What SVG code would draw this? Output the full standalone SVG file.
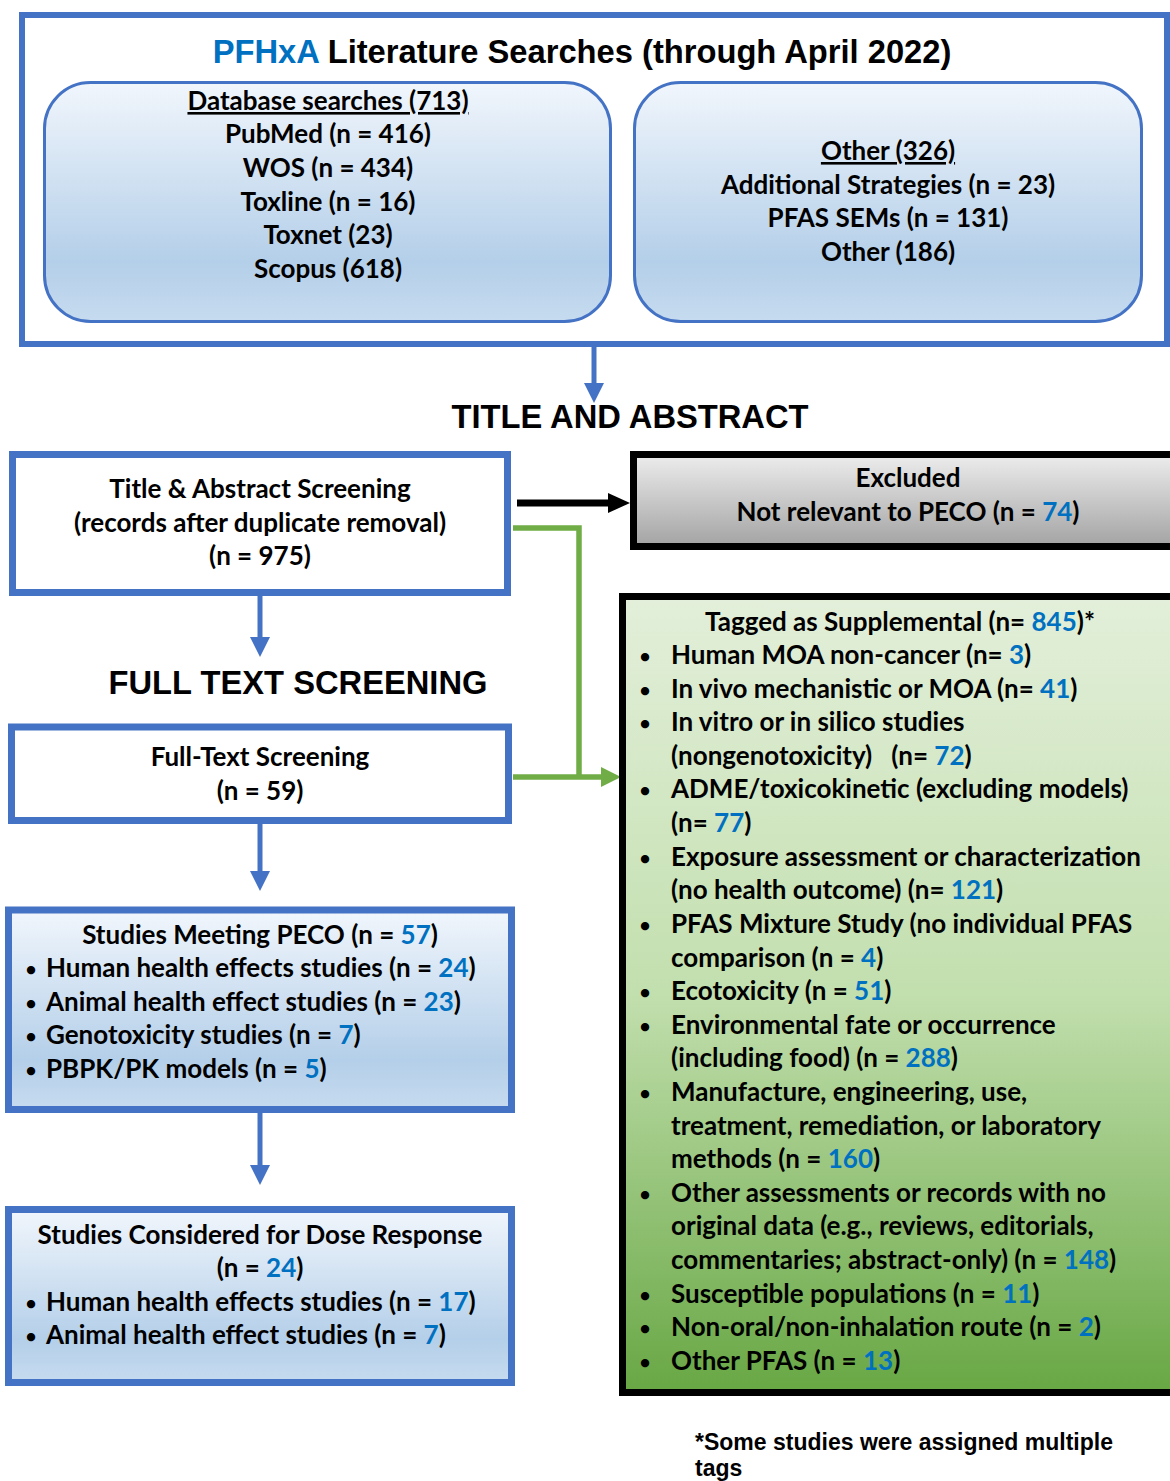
<svg xmlns="http://www.w3.org/2000/svg" width="1170" height="1481" viewBox="0 0 1170 1481">
<style>
.t{font-family:Lato,"Open Sans","Liberation Sans",sans-serif;font-weight:bold;font-size:26px;fill:#000}
.c{text-anchor:middle}
.b{font-family:Lato,"Open Sans","Liberation Sans",sans-serif;font-weight:bold;font-size:19px;fill:#000;text-anchor:middle}
.h{font-family:"Liberation Sans",Arial,sans-serif;font-weight:bold;font-size:32.7px;fill:#000}
.n{fill:#0070C0}
.u{text-decoration:underline}
.fn{font-family:"Liberation Sans",Arial,sans-serif;font-weight:bold;font-size:23px;fill:#000}
</style>
<defs>
<linearGradient id="gBlue" x1="0" y1="0" x2="0" y2="1">
<stop offset="0" stop-color="#f1f6fc"/>
<stop offset="0.75" stop-color="#b4cfe9"/>
<stop offset="1" stop-color="#c6dbef"/>
</linearGradient>
<linearGradient id="gGray" x1="0" y1="0" x2="0" y2="1">
<stop offset="0" stop-color="#ededed"/>
<stop offset="1" stop-color="#a3a3a3"/>
</linearGradient>
<linearGradient id="gGreen" x1="0" y1="0" x2="0" y2="1">
<stop offset="0" stop-color="#e3efda"/>
<stop offset="0.5" stop-color="#c2dfae"/>
<stop offset="1" stop-color="#68a744"/>
</linearGradient>
<marker id="aBlue" markerUnits="userSpaceOnUse" markerWidth="22" markerHeight="22" viewBox="0 0 20 22" refX="0" refY="11" orient="auto">
<path d="M0,1 L20,11 L0,21 Z" fill="#4472C4"/>
</marker>
<marker id="aBlack" markerUnits="userSpaceOnUse" markerWidth="22" markerHeight="22" viewBox="0 0 22 22" refX="0" refY="11" orient="auto">
<path d="M0,1 L22,11 L0,21 Z" fill="#000"/>
</marker>
<marker id="aGreen" markerUnits="userSpaceOnUse" markerWidth="20" markerHeight="22" viewBox="0 0 20 22" refX="0" refY="11" orient="auto">
<path d="M0,1 L20,11 L0,21 Z" fill="#70AD47"/>
</marker>
</defs>
<rect width="1170" height="1481" fill="#fff"/>

<g id="connectors">
<line x1="594" y1="347" x2="594" y2="383" stroke="#4472C4" stroke-width="5" marker-end="url(#aBlue)"/>
<line x1="517" y1="503" x2="608" y2="503" stroke="#000" stroke-width="7" marker-end="url(#aBlack)"/>
<polyline points="513,528 579,528 579,777" fill="none" stroke="#70AD47" stroke-width="5.5"/>
<line x1="513" y1="777" x2="601" y2="777" stroke="#70AD47" stroke-width="5.5" marker-end="url(#aGreen)"/>
<line x1="260" y1="596" x2="260" y2="637" stroke="#4472C4" stroke-width="5" marker-end="url(#aBlue)"/>
<line x1="260" y1="824" x2="260" y2="871" stroke="#4472C4" stroke-width="5" marker-end="url(#aBlue)"/>
<line x1="260" y1="1113" x2="260" y2="1165" stroke="#4472C4" stroke-width="5" marker-end="url(#aBlue)"/>
</g>

<g id="searches">
<rect x="22" y="15" width="1145" height="329" fill="#fff" stroke="#4472C4" stroke-width="6"/>
<text class="h c" x="582" y="63"><tspan fill="#0070C0">PFHxA</tspan> Literature Searches (through April 2022)</text>
</g>

<g id="database">
<rect x="44.5" y="82.5" width="566" height="239" rx="46" fill="url(#gBlue)" stroke="#4472C4" stroke-width="3"/>
<text class="t c" x="328" y="110"><tspan class="u">Database searches (713)</tspan></text>
<text class="t c" x="328" y="143">PubMed (n = 416)</text>
<text class="t c" x="328" y="177">WOS (n = 434)</text>
<text class="t c" x="328" y="211">Toxline (n = 16)</text>
<text class="t c" x="328" y="244">Toxnet (23)</text>
<text class="t c" x="328" y="278">Scopus (618)</text>
</g>

<g id="other">
<rect x="634.5" y="82.5" width="507" height="239" rx="46" fill="url(#gBlue)" stroke="#4472C4" stroke-width="3"/>
<text class="t c" x="888" y="160"><tspan class="u">Other (326)</tspan></text>
<text class="t c" x="888" y="194">Additional Strategies (n = 23)</text>
<text class="t c" x="888" y="227">PFAS SEMs (n = 131)</text>
<text class="t c" x="888" y="261">Other (186)</text>
</g>

<g id="label-title-abstract">
<text class="h c" x="630" y="428">TITLE AND ABSTRACT</text>
</g>

<g id="title-abstract">
<rect x="12.5" y="454.5" width="495" height="138" fill="#fff" stroke="#4472C4" stroke-width="7"/>
<text class="t c" x="260" y="498">Title &amp; Abstract Screening</text>
<text class="t c" x="260" y="532">(records after duplicate removal)</text>
<text class="t c" x="260" y="565">(n = 975)</text>
</g>

<g id="excluded">
<rect x="633.5" y="454.5" width="545" height="92" fill="url(#gGray)" stroke="#000" stroke-width="7"/>
<text class="t c" x="908" y="487">Excluded</text>
<text class="t c" x="908" y="521">Not relevant to PECO (n = <tspan class="n">74</tspan>)</text>
</g>

<g id="label-full-text">
<text class="h c" x="298" y="694">FULL TEXT SCREENING</text>
</g>

<g id="full-text">
<rect x="11.5" y="727" width="497" height="93.5" fill="#fff" stroke="#4472C4" stroke-width="7"/>
<text class="t c" x="260" y="766">Full-Text Screening</text>
<text class="t c" x="260" y="800">(n = 59)</text>
</g>

<g id="peco">
<rect x="8.5" y="910" width="503" height="199.5" fill="url(#gBlue)" stroke="#4472C4" stroke-width="7"/>
<text class="t c" x="260" y="944">Studies Meeting PECO (n = <tspan class="n">57</tspan>)</text>
<text class="b" x="31" y="976">•</text><text class="t" x="46" y="977">Human health effects studies (n = <tspan class="n">24</tspan>)</text>
<text class="b" x="31" y="1010">•</text><text class="t" x="46" y="1011">Animal health effect studies (n = <tspan class="n">23</tspan>)</text>
<text class="b" x="31" y="1043">•</text><text class="t" x="46" y="1044">Genotoxicity studies (n = <tspan class="n">7</tspan>)</text>
<text class="b" x="31" y="1077">•</text><text class="t" x="46" y="1078">PBPK/PK models (n = <tspan class="n">5</tspan>)</text>
</g>

<g id="dose-response">
<rect x="8.5" y="1209.5" width="503" height="173" fill="url(#gBlue)" stroke="#4472C4" stroke-width="7"/>
<text class="t c" x="260" y="1244">Studies Considered for Dose Response</text>
<text class="t c" x="260" y="1277">(n = <tspan class="n">24</tspan>)</text>
<text class="b" x="31" y="1310">•</text><text class="t" x="46" y="1311">Human health effects studies (n = <tspan class="n">17</tspan>)</text>
<text class="b" x="31" y="1343">•</text><text class="t" x="46" y="1344">Animal health effect studies (n = <tspan class="n">7</tspan>)</text>
</g>

<g id="supplemental">
<rect x="622.5" y="596.5" width="556" height="796" fill="url(#gGreen)" stroke="#000" stroke-width="7"/>
<text class="t c" x="900" y="631">Tagged as Supplemental (n= <tspan class="n">845</tspan>)*</text>
<g class="b">
<text x="645" y="663">•</text><text x="645" y="697">•</text><text x="645" y="730">•</text><text x="645" y="797">•</text><text x="645" y="865">•</text><text x="645" y="932">•</text><text x="645" y="999">•</text><text x="645" y="1033">•</text><text x="645" y="1100">•</text><text x="645" y="1201">•</text><text x="645" y="1302">•</text><text x="645" y="1335">•</text><text x="645" y="1369">•</text>
</g>
<g class="t">
<text x="671" y="664">Human MOA non-cancer (n= <tspan class="n">3</tspan>)</text>
<text x="671" y="698">In vivo mechanistic or MOA (n= <tspan class="n">41</tspan>)</text>
<text x="671" y="731">In vitro or in silico studies</text>
<text x="671" y="765" xml:space="preserve">(nongenotoxicity)   (n= <tspan class="n">72</tspan>)</text>
<text x="671" y="798">ADME/toxicokinetic (excluding models)</text>
<text x="671" y="832">(n= <tspan class="n">77</tspan>)</text>
<text x="671" y="866">Exposure assessment or characterization</text>
<text x="671" y="899">(no health outcome) (n= <tspan class="n">121</tspan>)</text>
<text x="671" y="933">PFAS Mixture Study (no individual PFAS</text>
<text x="671" y="967">comparison (n = <tspan class="n">4</tspan>)</text>
<text x="671" y="1000">Ecotoxicity (n = <tspan class="n">51</tspan>)</text>
<text x="671" y="1034">Environmental fate or occurrence</text>
<text x="671" y="1067">(including food) (n = <tspan class="n">288</tspan>)</text>
<text x="671" y="1101">Manufacture, engineering, use,</text>
<text x="671" y="1135">treatment, remediation, or laboratory</text>
<text x="671" y="1168">methods (n = <tspan class="n">160</tspan>)</text>
<text x="671" y="1202">Other assessments or records with no</text>
<text x="671" y="1235">original data (e.g., reviews, editorials,</text>
<text x="671" y="1269">commentaries; abstract-only) (n = <tspan class="n">148</tspan>)</text>
<text x="671" y="1303">Susceptible populations (n = <tspan class="n">11</tspan>)</text>
<text x="671" y="1336">Non-oral/non-inhalation route (n = <tspan class="n">2</tspan>)</text>
<text x="671" y="1370">Other PFAS (n = <tspan class="n">13</tspan>)</text>
</g>
</g>

<g id="footnote">
<text class="fn" x="695" y="1450">*Some studies were assigned multiple</text>
<text class="fn" x="695" y="1476">tags</text>
</g>
</svg>
